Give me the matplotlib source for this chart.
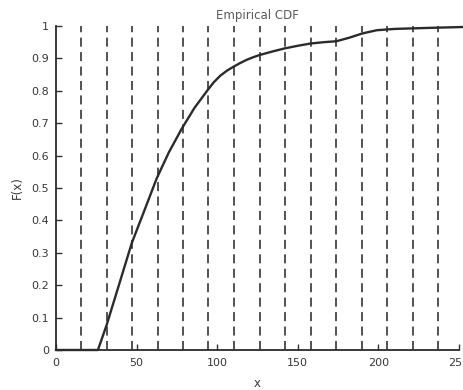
import matplotlib
matplotlib.use("Agg")
import matplotlib.pyplot as plt

# Empirical CDF samples (x, F(x))
cdf_x = [0, 26, 31.4, 39, 47, 54, 62.5, 70, 78, 86, 94.5, 98, 102, 106, 110,
         114, 118, 122, 126, 134, 142, 150, 158, 166, 174, 182, 190, 199,
         210, 230, 253]
cdf_y = [0, 0, 0.077, 0.20, 0.33, 0.42, 0.53, 0.61, 0.683, 0.748, 0.805, 0.827,
         0.847, 0.862, 0.874, 0.885, 0.895, 0.903, 0.910, 0.921, 0.931, 0.939,
         0.946, 0.950, 0.953, 0.964, 0.977, 0.987, 0.991, 0.994, 0.997]

# Bin edges marked with dashed verticals
edges = [15.5, 31.5, 47, 63, 79, 94.5, 110.5, 126.5, 142, 158, 174, 190,
         205.5, 221.5, 237]

xticks = [0, 50, 100, 150, 200, 250]
yticks = [0, 0.1, 0.2, 0.3, 0.4, 0.5, 0.6, 0.7, 0.8, 0.9, 1]
ytick_labels = ["0", "0.1", "0.2", "0.3", "0.4", "0.5", "0.6", "0.7", "0.8", "0.9", "1"]

fig = plt.figure(figsize=(4.63, 3.90), dpi=100)
ax = fig.add_axes([56 / 463, 1 - 350 / 390, (459 - 56) / 463, (350 - 26) / 390])

for e in edges:
    ax.plot([e, e], [0, 1], color="#444444", lw=1.3, ls=(0, (5, 3.0)), zorder=1)

ax.plot(cdf_x, cdf_y, color="#2b2b2b", lw=1.7, zorder=3, clip_on=False,
        solid_joinstyle="round")

ax.set_xlim(0, 250)
ax.set_ylim(0, 1)
ax.set_xticks(xticks)
ax.set_yticks(yticks)
ax.set_yticklabels(ytick_labels)
for s in ("top", "right"):
    ax.spines[s].set_visible(False)
for s in ("left", "bottom"):
    ax.spines[s].set_linewidth(1.3)
    ax.spines[s].set_color("#2b2b2b")
ax.tick_params(direction="in", length=4, width=1, colors="#333333",
               labelsize=8, labelcolor="#383838")
ax.tick_params(axis="x", pad=6)
ax.tick_params(axis="y", pad=5)

ax.set_xlabel("x", fontsize=8.5, color="#383838", labelpad=6)
ax.set_ylabel("F(x)", fontsize=8.5, color="#383838", labelpad=5)
ax.set_title("Empirical CDF", fontsize=8.5, color="#5a5a5a", pad=5)

fig.savefig("out.png", dpi=100)
